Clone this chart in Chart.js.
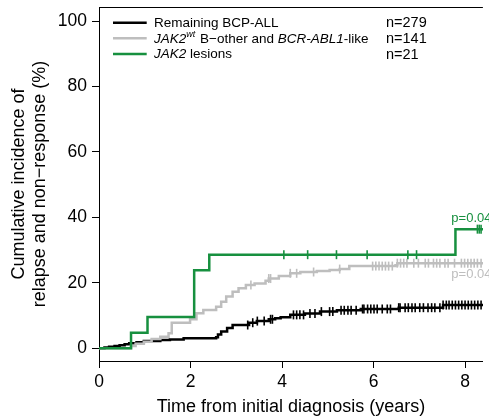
<!DOCTYPE html>
<html><head><meta charset="utf-8">
<script src="https://cdn.jsdelivr.net/npm/chart.js@4/dist/chart.umd.min.js"></script>
<style>html,body{margin:0;padding:0;background:#fff}</style>
</head><body>
<canvas id="c" width="489" height="419"></canvas>
<script>
const FONT = '"Liberation Sans", Arial, Helvetica, sans-serif';

// ---- data ----
const xTicks = [0, 2, 4, 6, 8];
const yTicks = [0, 20, 40, 60, 80, 100];
const groupNames = ['Remaining BCP-ALL', 'JAK2wt B−other and BCR-ABL1-like', 'JAK2 lesions'];
const groupN = ['n=279', 'n=141', 'n=21'];

// Remaining BCP-ALL (black): event times (years) and cumulative incidence (%)
const blackT = [0, 0.12, 0.22, 0.34, 0.45, 0.56, 0.66, 0.82, 0.98, 1.34, 1.55, 1.85, 2.56, 2.60, 2.67, 2.80, 2.92, 3.28, 3.45, 3.71, 3.85, 3.97, 4.18, 4.50, 4.83, 5.20, 5.72, 6.55, 7.52, 8.60];
const blackV = [0, 0.2, 0.45, 0.7, 0.95, 1.2, 1.5, 1.85, 2.2, 2.5, 2.7, 3.05, 3.35, 4.2, 5.1, 6.2, 7.1, 7.8, 8.3, 8.85, 9.2, 9.45, 10.2, 10.6, 11.2, 11.6, 12.0, 12.4, 13.2, 13.2];
const blackCens = [3.25, 3.36, 3.46, 3.61, 3.75, 3.79, 4.25, 4.32, 4.39, 4.47, 4.61, 4.72, 4.86, 5.04, 5.11, 5.29, 5.36, 5.44, 5.51, 5.62, 5.76, 5.79, 5.87, 5.94, 6.01, 6.08, 6.19, 6.30, 6.37, 6.55, 6.58, 6.69, 6.76, 6.84, 6.91, 7.01, 7.09, 7.19, 7.27, 7.34, 7.45, 7.52, 7.59, 7.65, 7.72, 7.79, 7.86, 7.93, 8.00, 8.07, 8.14, 8.21, 8.28, 8.35];

// JAK2wt B-other and BCR-ABL1-like (gray)
const grayT = [0, 0.70, 0.80, 0.98, 1.15, 1.34, 1.52, 1.59, 1.99, 2.13, 2.28, 2.56, 2.67, 2.78, 2.92, 3.05, 3.21, 3.40, 3.64, 3.71, 3.93, 4.18, 4.40, 4.76, 5.04, 5.26, 5.47, 6.48, 6.52, 8.60];
const grayV = [0, 0.7, 1.4, 2.0, 2.8, 3.5, 4.6, 7.8, 8.85, 10.7, 11.7, 12.7, 14.2, 15.8, 17.3, 18.3, 19.3, 19.8, 20.6, 21.3, 22.1, 22.9, 23.3, 23.6, 23.9, 24.2, 25.1, 25.4, 26.0, 26.0];
const grayCens = [3.32, 3.71, 3.75, 4.18, 4.32, 4.69, 5.26, 5.98, 6.05, 6.12, 6.19, 6.26, 6.33, 6.41, 6.52, 6.59, 6.66, 6.73, 6.88, 6.98, 7.13, 7.20, 7.31, 7.38, 7.45, 7.56, 7.63, 7.77, 7.92, 7.99, 8.06, 8.13, 8.20, 8.27, 8.35];

// JAK2 lesions (green)
const greenT = [0, 0.70, 1.06, 2.08, 2.41, 7.79, 8.60];
const greenV = [0, 4.76, 9.52, 23.8, 28.6, 36.4, 36.4];
const greenCens = [4.04, 4.56, 5.19, 5.86, 6.75, 6.94, 8.27, 8.31, 8.35];

const pValues = ['p=0.04', 'p=0.04'];
// ---- end data ----

const COLORS = ['#000000', '#bebebe', '#17903f'];

function stepAt(ts, vs, t) {
  let v = vs[0];
  for (let i = 0; i < ts.length; i++) { if (ts[i] <= t) v = vs[i]; }
  return v;
}
function curve(label, ts, vs, color, order) {
  return {
    type: 'line', label, order,
    data: ts.map((t, i) => ({x: t, y: vs[i]})),
    borderColor: color, borderWidth: 2.5, stepped: true,
    pointRadius: 0, fill: false, borderCapStyle: 'butt', borderJoinStyle: 'miter'
  };
}
function cens(ts, vs, times, color, order) {
  return {
    type: 'scatter', order,
    data: times.map(t => ({x: t, y: stepAt(ts, vs, t)})),
    pointStyle: 'line', rotation: 90, pointRadius: 4.5, pointBorderWidth: 1.6,
    borderColor: color, backgroundColor: color, showLine: false
  };
}

const decor = {
  id: 'decor',
  afterDraw(chart) {
    const {ctx, chartArea: a, scales: {x, y}} = chart;
    ctx.save();
    // top frame line
    ctx.strokeStyle = '#000'; ctx.lineWidth = 1;
    ctx.beginPath(); ctx.moveTo(a.left, a.top + 0.5); ctx.lineTo(a.right, a.top + 0.5); ctx.stroke();

    // legend
    const rows = [
      [{t: 'Remaining BCP-ALL'}],
      [{t: 'JAK2', i: true}, {t: 'wt', i: true, sup: true}, {t: ' B−other and '}, {t: 'BCR-ABL1', i: true}, {t: '-like'}],
      [{t: 'JAK2', i: true}, {t: ' lesions'}]
    ];
    const rowY = [22.8, 38.3, 54.0];
    rows.forEach((segs, r) => {
      const yy = rowY[r];
      ctx.strokeStyle = COLORS[r]; ctx.lineWidth = 2.5;
      ctx.beginPath(); ctx.moveTo(113, yy); ctx.lineTo(146.7, yy); ctx.stroke();
      let xx = 154;
      ctx.fillStyle = '#000';
      ctx.textBaseline = 'middle'; ctx.textAlign = 'left';
      segs.forEach(s => {
        const size = s.sup ? 9 : 13.5;
        ctx.font = (s.i ? 'italic ' : '') + size + 'px ' + FONT;
        ctx.fillText(s.t, xx, s.sup ? yy - 3.5 : yy + 0.6);
        xx += ctx.measureText(s.t).width + (s.sup ? 1 : 0);
      });
      ctx.font = '14.5px ' + FONT;
      ctx.fillText(groupN[r], 386, yy + 0.6);
    });

    // p-value labels
    ctx.font = '13px ' + FONT;
    ctx.textBaseline = 'alphabetic';
    ctx.fillStyle = COLORS[2];
    ctx.fillText(pValues[0], x.getPixelForValue(7.70), y.getPixelForValue(38.7));
    ctx.fillStyle = COLORS[1];
    ctx.fillText(pValues[1], x.getPixelForValue(7.70), y.getPixelForValue(21.4));
    ctx.restore();
  }
};

new Chart(document.getElementById('c'), {
  data: {
    datasets: [
      curve(groupNames[0], blackT, blackV, COLORS[0], 3),
      cens(blackT, blackV, blackCens, COLORS[0], 3),
      curve(groupNames[1], grayT, grayV, COLORS[1], 2),
      cens(grayT, grayV, grayCens, COLORS[1], 2),
      curve(groupNames[2], greenT, greenV, COLORS[2], 1),
      cens(greenT, greenV, greenCens, COLORS[2], 1)
    ]
  },
  options: {
    responsive: false, animation: false, devicePixelRatio: 1, events: [],
    layout: {padding: {top: 7, left: 0, right: 0, bottom: 0}},
    plugins: {legend: {display: false}, tooltip: {enabled: false}},
    scales: {
      x: {
        type: 'linear', min: 0, max: 8.39,
        afterBuildTicks: s => { s.ticks = xTicks.map(v => ({value: v})); },
        afterFit: s => { s.height = 58; s.paddingLeft = 0; s.paddingRight = 0; },
        grid: {drawOnChartArea: false, drawTicks: true, tickLength: 7, color: '#000', lineWidth: 1},
        border: {display: true, color: '#000', width: 1},
        ticks: {color: '#000', font: {family: FONT, size: 17.5}, padding: 4, maxRotation: 0, autoSkip: false},
        title: {display: true, text: 'Time from initial diagnosis (years)', color: '#000',
                font: {family: FONT, size: 18, lineHeight: 1.2}, padding: {top: 0, bottom: 1}}
      },
      y: {
        type: 'linear', min: -3.9, max: 104.3,
        afterBuildTicks: s => { s.ticks = yTicks.map(v => ({value: v})); },
        afterFit: s => { s.width = 99; s.paddingTop = 0; s.paddingBottom = 0; },
        grid: {drawOnChartArea: false, drawTicks: true, tickLength: 7, color: '#000', lineWidth: 1},
        border: {display: true, color: '#000', width: 1},
        ticks: {color: '#000', font: {family: FONT, size: 17.5}, padding: 5, autoSkip: false},
        title: {display: true, text: ['Cumulative incidence of', 'relapse and non−response (%)'], color: '#000',
                font: {family: FONT, size: 18, lineHeight: 1.2}, padding: {top: 8, bottom: 0}}
      }
    }
  },
  plugins: [decor]
});
</script>
</body></html>
